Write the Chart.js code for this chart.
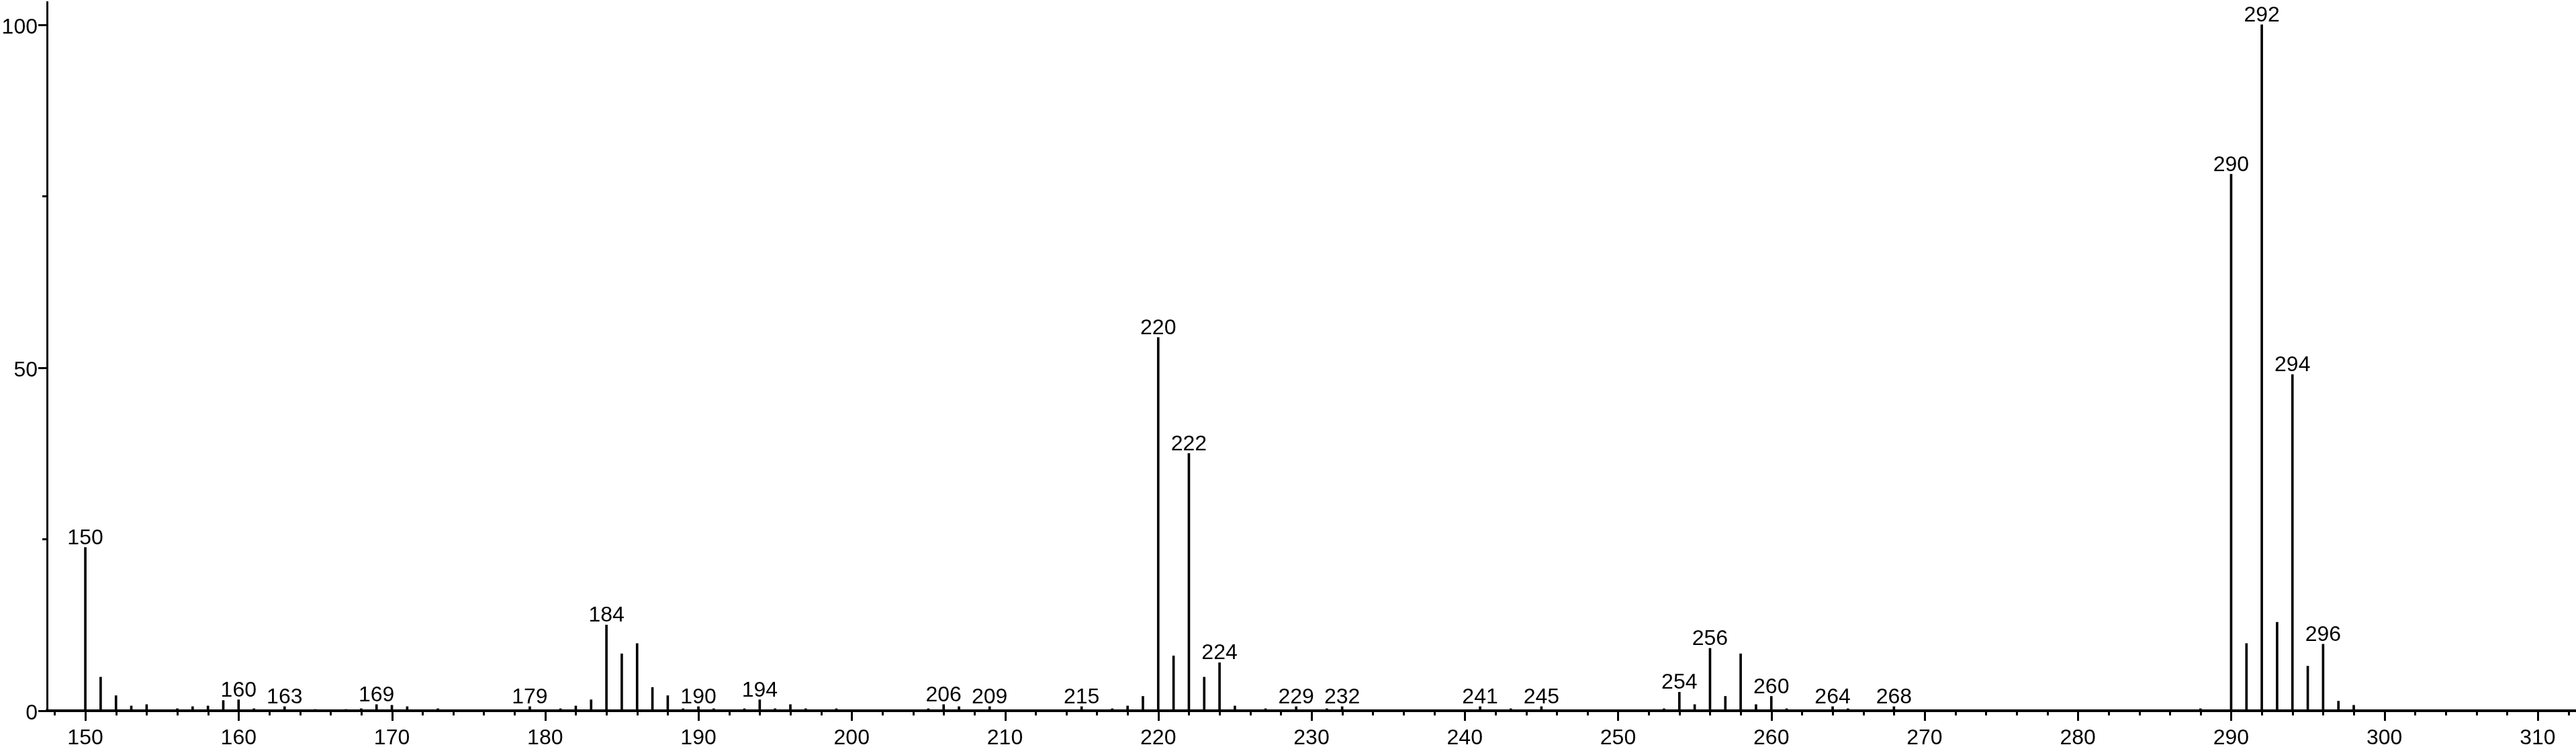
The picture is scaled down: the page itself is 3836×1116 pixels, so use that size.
<!DOCTYPE html>
<html>
<head>
<meta charset="utf-8">
<title>Mass spectrum</title>
<script src="https://cdn.jsdelivr.net/npm/chart.js@4.4.1/dist/chart.umd.min.js"></script>
<style>
  html, body { margin: 0; padding: 0; background: #fff; }
  #wrap { width: 3836px; height: 1116px; position: relative; }
</style>
</head>
<body>
<div id="wrap"><canvas id="spectrum"></canvas></div>
<script>
// m/z values and relative intensities (%)
const masses = [150, 151, 152, 153, 154, 156, 157, 158, 159, 160, 161, 163, 165, 167, 168, 169, 170, 171, 173,
    179, 181, 182, 183, 184, 185, 186, 187, 188, 189, 190, 191, 193, 194, 195, 196, 197, 199,
    205, 206, 207, 209, 215, 217, 218, 219, 220, 221, 222, 223, 224, 225, 227, 229, 231, 232,
    241, 243, 245, 253, 254, 255, 256, 257, 258, 259, 260, 261, 264, 265, 268,
    288, 290, 291, 292, 293, 294, 295, 296, 297, 298];
const intensities = [23.8, 4.9, 2.2, 0.7, 0.9, 0.3, 0.6, 0.7, 1.5, 1.6, 0.3, 0.6, 0.2, 0.2, 0.3, 0.9, 0.8, 0.6, 0.3,
    0.6, 0.3, 0.7, 1.6, 12.5, 8.3, 9.8, 3.4, 2.2, 0.3, 0.6, 0.3, 0.3, 1.6, 0.3, 0.9, 0.3, 0.3,
    0.3, 0.9, 0.6, 0.6, 0.6, 0.3, 0.7, 2.1, 54.4, 8.0, 37.5, 4.9, 7.0, 0.7, 0.3, 0.6, 0.3, 0.6,
    0.6, 0.3, 0.6, 0.3, 2.7, 0.9, 9.1, 2.1, 8.3, 0.9, 2.1, 0.3, 0.6, 0.3, 0.6,
    0.3, 78.2, 9.8, 100, 12.9, 49.0, 6.5, 9.7, 1.4, 0.8];

// peaks that carry an m/z label
const labelledPeaks = [150, 160, 163, 169, 179, 184, 190, 194, 206, 209, 215, 220, 222, 224, 229, 232,
    241, 245, 254, 256, 260, 264, 268, 290, 292, 294, 296];

// axis tick labels
const xTickLabels = [150, 160, 170, 180, 190, 200, 210, 220, 230, 240, 250, 260, 270, 280, 290, 300, 310];
const yTickLabels = [0, 50, 100];

Chart.defaults.font.family = '"Liberation Sans", Arial, sans-serif';
Chart.defaults.font.size = 32;
Chart.defaults.color = '#000';

// short tick marks outside the axes, long ones at labelled values
const tickMarks = {
    id: 'tickMarks',
    afterDraw(chart) {
        const {ctx, chartArea, scales: {x, y}} = chart;
        ctx.save();
        ctx.strokeStyle = '#000';
        ctx.lineWidth = 3;
        ctx.beginPath();
        x.ticks.forEach(t => {
            const px = Math.round(x.getPixelForValue(t.value)) + 0.5;
            const len = xTickLabels.includes(t.value) ? 15 : 7;
            ctx.moveTo(px, chartArea.bottom);
            ctx.lineTo(px, chartArea.bottom + len);
        });
        y.ticks.forEach(t => {
            const py = Math.round(y.getPixelForValue(t.value)) + 0.5;
            const len = yTickLabels.includes(t.value) ? 13 : 7;
            ctx.moveTo(chartArea.left, py);
            ctx.lineTo(chartArea.left - len, py);
        });
        ctx.stroke();
        ctx.restore();
    }
};

// m/z numbers above the labelled peaks
const peakLabels = {
    id: 'peakLabels',
    afterDatasetsDraw(chart) {
        const {ctx, scales: {x, y}} = chart;
        ctx.save();
        ctx.font = '32px "Liberation Sans", Arial, sans-serif';
        ctx.fillStyle = '#000';
        ctx.textAlign = 'center';
        ctx.textBaseline = 'alphabetic';
        labelledPeaks.forEach(m => {
            const i = masses.indexOf(m);
            ctx.fillText(String(m), x.getPixelForValue(m), y.getPixelForValue(intensities[i]) - 5);
        });
        ctx.restore();
    }
};

const ctx = document.getElementById('spectrum').getContext('2d');
const spectrumChart = new Chart(ctx, {
    type: 'bar',
    data: {
        datasets: [{
            data: masses.map((m, i) => ({x: m, y: intensities[i]})),
            backgroundColor: '#000',
            borderWidth: 0,
            barThickness: 3
        }]
    },
    options: {
        responsive: true,
        maintainAspectRatio: false,
        animation: false,
        layout: {
            padding: {top: 3, right: 0, bottom: 0, left: 0}
        },
        plugins: {
            legend: {display: false},
            tooltip: {enabled: false}
        },
        scales: {
            x: {
                type: 'linear',
                min: 147.5,
                max: 312.5,
                offset: false,
                grid: {display: false, drawTicks: false},
                border: {display: true, color: '#000', width: 4},
                ticks: {
                    stepSize: 2,
                    includeBounds: false,
                    autoSkip: false,
                    maxRotation: 0,
                    padding: 22,
                    callback: v => xTickLabels.includes(v) ? String(v) : ''
                },
                afterFit: scale => {
                    scale.height = 57;
                    scale.paddingLeft = 0;
                    scale.paddingRight = 0;
                }
            },
            y: {
                min: 0,
                max: 103.3,
                grid: {display: false, drawTicks: false},
                border: {display: true, color: '#000', width: 3},
                ticks: {
                    stepSize: 25,
                    includeBounds: false,
                    padding: 14,
                    labelOffset: 4,
                    callback: v => yTickLabels.includes(v) ? String(v) : ''
                },
                afterFit: scale => {
                    scale.width = 70;
                    scale.paddingTop = 0;
                    scale.paddingBottom = 0;
                }
            }
        }
    },
    plugins: [tickMarks, peakLabels]
});
</script>
</body>
</html>
